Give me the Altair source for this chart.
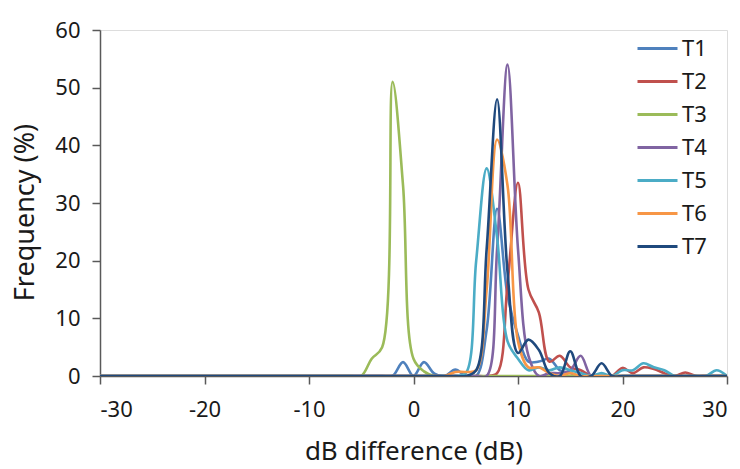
import altair as alt
import pandas as pd

# dB difference bins (1 dB steps)
x_bins = list(range(-30, 31))

def series(vals):
    out = [0.0] * len(x_bins)
    for k, v in vals.items():
        out[x_bins.index(k)] = v
    return out

T1 = series({-1: 2.4, 1: 2.4, 2: 0.4, 4: 1.1, 7: 8, 8: 29, 9: 14, 10: 7, 11: 2.5, 12: 2.5, 13: 3, 14: 1, 15: 0.5})
T2 = series({8: 0.5, 9: 16, 10: 33.5, 11: 15, 12: 11, 13: 2.5, 14: 3.5, 15: 1.5, 16: 1,
             20: 1.4, 21: 0.5, 22: 1.5, 23: 1.2, 24: 0.5, 26: 0.6})
T3 = series({-4: 3, -3: 5, -2: 51, -1: 33, 0: 3, 1: 0.8})
T4 = series({8: 22, 9: 54, 10: 22, 11: 3.5, 13: 0.5, 14: 0.5, 15: 1, 16: 3.5})
T5 = series({5: 0.5, 6: 20, 7: 36, 8: 24, 9: 6, 10: 3, 11: 1, 12: 1.5, 13: 1, 14: 1.5, 15: 1, 16: 0.5,
             18: 0.5, 20: 1, 21: 1, 22: 2.2, 23: 1.5, 24: 1, 29: 1})
T6 = series({4: 0.7, 5: 0.7, 6: 1, 7: 15, 8: 41, 9: 33, 10: 6, 11: 1.5, 12: 1.5, 13: 0.5, 15: 0.5})
T7 = series({6: 1, 7: 22, 8: 48, 9: 18, 10: 4, 11: 6.3, 12: 4.5, 13: 0.5, 15: 4.3, 18: 2.2})

names = ["T1", "T2", "T3", "T4", "T5", "T6", "T7"]
colors = ["#4F81BD", "#C0504D", "#9BBB59", "#8064A2", "#4BACC6", "#F79646", "#1F497D"]
all_series = [T1, T2, T3, T4, T5, T6, T7]

rows = []
for i, (n, s) in enumerate(zip(names, all_series)):
    for xv, yv in zip(x_bins, s):
        rows.append({"x": xv, "y": yv, "series": n, "order": i})
df = pd.DataFrame(rows)

FONT = "Noto Sans"
TXT = "#1a1a1a"
AX = "#595959"

chart = alt.Chart(df).mark_line(
    interpolate="catmull-rom", strokeWidth=2.6, clip=True
).encode(
    x=alt.X("x:Q", scale=alt.Scale(domain=[-30, 30], nice=False),
            axis=alt.Axis(title="dB difference (dB)", values=list(range(-30, 31, 10)),
                          labelExpr="'' + datum.value",
                          grid=False, tickSize=8, labelPadding=15, labelFontSize=22,
                          titleFontSize=26, titleFontWeight="normal", titleY=62,
                          titleBaseline="top",
                          domainColor=AX, tickColor=AX, domainWidth=1.5, tickWidth=1.5,
                          labelColor=TXT, titleColor=TXT, labelFont=FONT, titleFont=FONT)),
    y=alt.Y("y:Q", scale=alt.Scale(domain=[0, 60], nice=False),
            axis=alt.Axis(title="Frequency (%)", values=list(range(0, 61, 10)),
                          grid=False, tickSize=8, labelPadding=12, labelFontSize=22,
                          titleFontSize=27, titleFontWeight="normal",
                          titleX=-61, titleY=182, titleAngle=-90, titleBaseline="bottom",
                          domainColor=AX, tickColor=AX, domainWidth=1.5, tickWidth=1.5,
                          labelColor=TXT, titleColor=TXT, labelFont=FONT, titleFont=FONT)),
    color=alt.Color("series:N", scale=alt.Scale(domain=names, range=colors),
                    legend=alt.Legend(title=None, orient="none", legendX=536, legendY=-3,
                                      symbolType="stroke", symbolSize=1600, symbolStrokeWidth=3,
                                      labelFontSize=22, labelFont=FONT, labelColor=TXT,
                                      rowPadding=-13, labelOffset=3)),
    order=alt.Order("order:Q"),
    detail="series:N",
).properties(
    width=627, height=346,
    padding={"left": 100, "top": 30, "right": 13, "bottom": 93},
    autosize=alt.AutoSizeParams(type="none"),
).configure_view(
    stroke=AX, strokeWidth=1.5
).configure(background="white")

chart.save("out.html", embed_options={"renderer": "svg", "actions": False})
